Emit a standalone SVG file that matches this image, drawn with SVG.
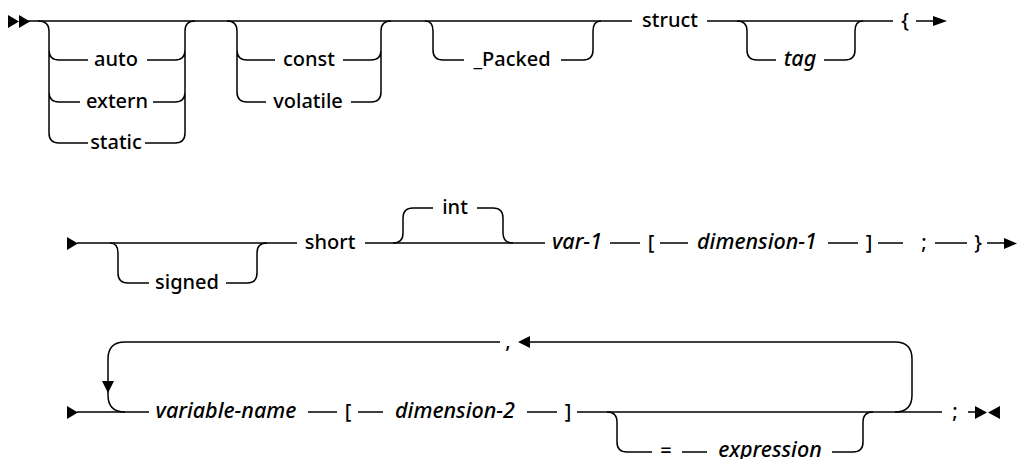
<svg xmlns="http://www.w3.org/2000/svg" width="1020" height="459" viewBox="0 0 1020 459">
<style>
.t{font-family:"Noto Sans","Liberation Sans",sans-serif;font-size:20px;font-weight:500;text-anchor:middle;fill:#000}
.i{font-style:italic;font-size:21.5px}
.l{fill:none;stroke:#000;stroke-width:1.5}
.a{fill:#000}
</style>
<rect width="1020" height="459" fill="#fff"/>
<g id="connectors">
<!-- row 1 -->
<polygon class="a" points="8,15 19,21.5 8,28"/>
<polygon class="a" points="19,15 30,21.5 19,28"/>
<path class="l" d="M28,21 H632 M707,21 H893 M916,21 H935"/>
<polygon class="a" points="933,16 947,21 933,26"/>
<path class="l" d="M38,21 Q49,21 49,31 V133 Q49,143 59,143 H88 M49,50 Q49,60 59,60 H88 M49,92 Q49,102 59,102 H80"/>
<path class="l" d="M147,60 H175 Q185,60 185,50 M153,102 H175 Q185,102 185,92 M145,143 H175 Q185,143 185,133 V31 Q185,21 195,21"/>
<path class="l" d="M227,21 Q237,21 237,31 V92 Q237,102 247,102 H266 M237,50 Q237,60 247,60 H275"/>
<path class="l" d="M343,60 H371 Q381,60 381,50 M351,102 H371 Q381,102 381,92 V31 Q381,21 391,21"/>
<path class="l" d="M425,21 Q433,21 433,31 V50 Q433,60 443,60 H464 M561,60 H583 Q593,60 593,50 V31 Q593,21 601,21"/>
<path class="l" d="M737,21 Q747,21 747,31 V50 Q747,60 757,60 H776 M824,60 H845 Q855,60 855,50 V31 Q855,21 863,21"/>
<!-- row 2 -->
<polygon class="a" points="67,237 78,243.5 67,250"/>
<path class="l" d="M77,243 H297 M365,243 H545 M610,243 H640 M660,243 H688 M828,243 H858 M878,243 H903 M935,243 H967 M987,243 H1006"/>
<polygon class="a" points="1004,238 1017,243.5 1004,249"/>
<path class="l" d="M110,243 Q118,243 118,253 V273 Q118,283 128,283 H149 M226,283 H247 Q257,283 257,273 V253 Q257,243 267,243"/>
<path class="l" d="M393,243 Q403,243 403,233 V218 Q403,208 413,208 H433 M477,208 H493 Q503,208 503,218 V233 Q503,243 513,243"/>
<!-- row 3 -->
<polygon class="a" points="67,406 78,412.5 67,419"/>
<path class="l" d="M77,412 H149 M308,412 H337 M358,412 H383 M527,412 H557 M577,412 H942 M968,412 H976"/>
<path class="l" d="M895,412 Q912,412 912,395 V359 Q912,342 895,342 H528 M500,342 H125 Q108,342 108,359 V395 Q108,412 125,412"/>
<polygon class="a" points="518,342 530,336 530,348"/>
<polygon class="a" points="102,381 114,381 108,393"/>
<path class="l" d="M607,412 Q617,412 617,422 V442 Q617,452 627,452 H652 M682,452 H707 M832,452 H853 Q863,452 863,442 V422 Q863,412 873,412"/>
<polygon class="a" points="975,406 987,412.5 975,419"/>
<polygon class="a" points="1000,406 988,412.5 1000,419"/>
</g>
<g id="n-auto"><text class="t" x="116" y="66">auto</text></g>
<g id="n-extern"><text class="t" x="117" y="108">extern</text></g>
<g id="n-static"><text class="t" x="116" y="149">static</text></g>
<g id="n-const"><text class="t" x="309" y="66">const</text></g>
<g id="n-volatile"><text class="t" x="308" y="108">volatile</text></g>
<g id="n-packed"><text class="t" x="512" y="66">_Packed</text></g>
<g id="n-struct"><text class="t" x="670" y="27">struct</text></g>
<g id="n-tag"><text class="t i" x="800" y="66">tag</text></g>
<g id="n-lbrace"><text class="t" x="905" y="27">{</text></g>
<g id="n-signed"><text class="t" x="187" y="289">signed</text></g>
<g id="n-short"><text class="t" x="330" y="249">short</text></g>
<g id="n-int"><text class="t" x="455" y="214">int</text></g>
<g id="n-var1"><text class="t i" x="577" y="249">var-1</text></g>
<g id="n-lbr1"><text class="t" x="651" y="249">[</text></g>
<g id="n-dim1"><text class="t i" x="757" y="249">dimension-1</text></g>
<g id="n-rbr1"><text class="t" x="869" y="249">]</text></g>
<g id="n-semi1"><text class="t" x="924" y="249">;</text></g>
<g id="n-rbrace"><text class="t" x="978" y="249">}</text></g>
<g id="n-comma"><text class="t" x="508" y="348">,</text></g>
<g id="n-varname"><text class="t i" x="226" y="418">variable-name</text></g>
<g id="n-lbr2"><text class="t" x="348" y="418">[</text></g>
<g id="n-dim2"><text class="t i" x="455" y="418">dimension-2</text></g>
<g id="n-rbr2"><text class="t" x="568" y="418">]</text></g>
<g id="n-eq"><text class="t" x="666" y="457">=</text></g>
<g id="n-expr"><text class="t i" x="770" y="457">expression</text></g>
<g id="n-semi2"><text class="t" x="955" y="418">;</text></g>
</svg>
